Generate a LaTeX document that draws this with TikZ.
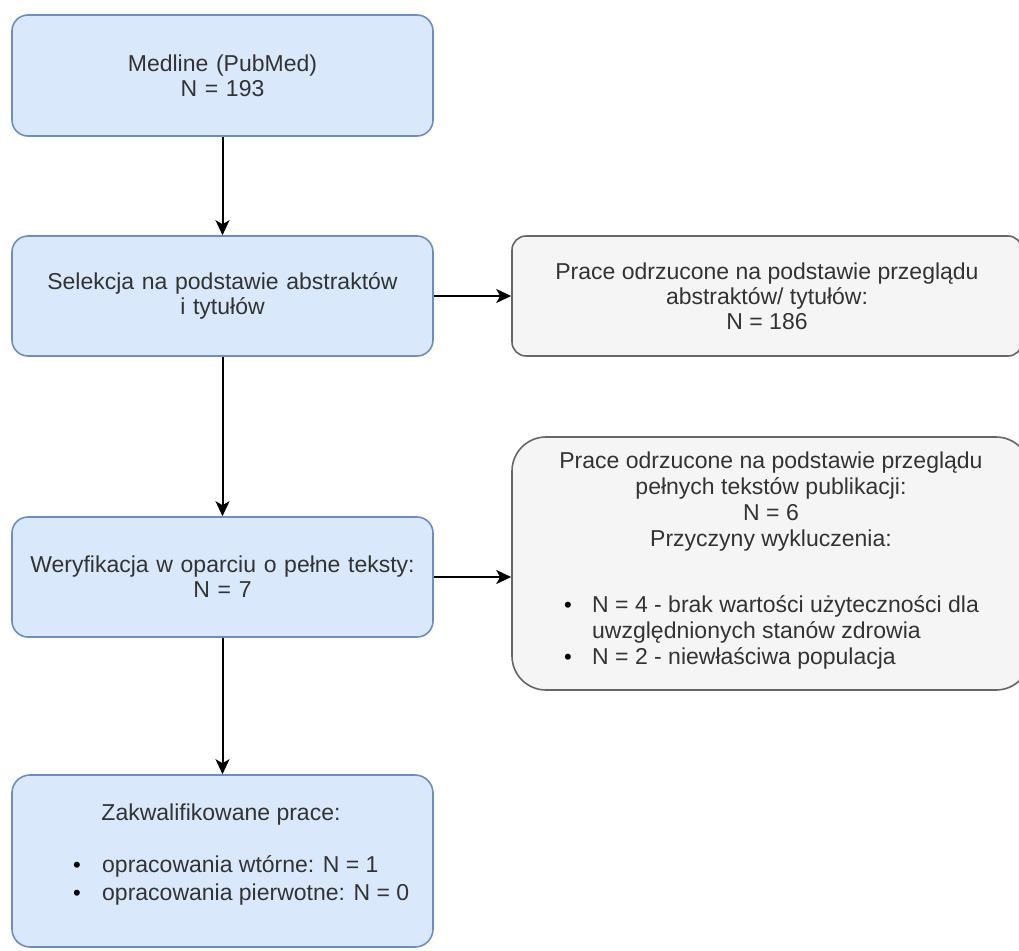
\documentclass[tikz,border=0pt]{standalone}
\usepackage{fontspec}
\setmainfont{Liberation Sans}
\usetikzlibrary{arrows.meta}
\definecolor{bfill}{HTML}{DAE8FC}
\definecolor{bdraw}{HTML}{6C8EBF}
\definecolor{gfill}{HTML}{F5F5F5}
\definecolor{gdraw}{HTML}{666666}
\definecolor{txt}{HTML}{333333}
\begin{document}
\begin{tikzpicture}[x=1pt,y=-1pt,
  bluebox/.style={draw=bdraw, fill=bfill, line width=1.6pt, rounded corners=16pt,
    minimum width=421pt, text width=410pt, align=center, inner sep=0pt,
    text=txt, font=\fontsize{23}{25}\selectfont},
  graybox/.style={draw=gdraw, fill=gfill, line width=1.6pt, inner sep=0pt,
    text=txt, align=center, font=\fontsize{23}{25}\selectfont},
  lbl/.style={inner sep=0pt, text=txt, font=\fontsize{23}{26}\selectfont,
    text height=16pt, text depth=5pt},
  head/.style={inner sep=0pt, text=txt, align=center, font=\fontsize{23}{26}\selectfont},
  bul/.style={inner sep=0pt, text=black, font=\fontsize{22}{22}\selectfont},
  arr/.style={line width=2pt, -{Stealth[length=15pt,width=14pt,inset=4pt]}}
]
\useasboundingbox (0,0) rectangle (1019,950);
\clip (0,0) rectangle (1019,950);
\fill[white] (0,0) rectangle (1019,950);

\node[bluebox, minimum height=121pt] (b1) at (222.5,75.5) {Medline (PubMed)\\N = 193};
\node[bluebox, minimum height=120pt] (b2) at (222.5,296) {Selekcja na podstawie abstraktów\\i tytułów};
\node[bluebox, minimum height=120pt] (b3) at (222.5,577) {Weryfikacja w oparciu o pełne teksty:\\N = 7};
\node[bluebox, minimum height=172pt, rounded corners=18pt] (b4) at (222.5,861) {};

\node[graybox, rounded corners=14pt, minimum width=510pt, minimum height=120pt] (bA) at (767,296)
  {Prace odrzucone na podstawie przeglądu\\abstraktów/ tytułów:\\N = 186};
\node[graybox, rounded corners=34pt, minimum width=518pt, minimum height=253pt] (bB) at (771,563.5) {};

% box B text
\node[head] (bBh) at (771,502)
  {Prace odrzucone na podstawie przeglądu\\pełnych tekstów publikacji:\\N = 6\\Przyczyny wykluczenia:};
\node[bul] (bBd1) at (568,607) {•};
\node[lbl, anchor=west] (bBt1) at (592,607) {N = 4 - brak wartości użyteczności dla};
\node[lbl, anchor=west] (bBt1b) at (592,633) {uwzględnionych stanów zdrowia};
\node[bul] (bBd2) at (568,659) {•};
\node[lbl, anchor=west] (bBt2) at (592,659) {N = 2 - niewłaściwa populacja};

% box 4 text
\node[lbl] (b4h) at (221,815) {Zakwalifikowane prace:};
\node[bul] (b4d1) at (77,867) {•};
\node[lbl, anchor=west] (b4t1) at (102,867) {opracowania wtórne: N = 1};
\node[bul] (b4d2) at (77,895) {•};
\node[lbl, anchor=west] (b4t2) at (102,895) {opracowania pierwotne: N = 0};

% connectors
\draw[arr] (b1.south) -- (b2.north);
\draw[arr] (b2.south) -- (b3.north);
\draw[arr] (b3.south) -- (b4.north);
\draw[arr] (b2.east) -- (bA.west);
\draw[arr] (b3.east) -- (b3.east -| bB.west);
\end{tikzpicture}
\end{document}
